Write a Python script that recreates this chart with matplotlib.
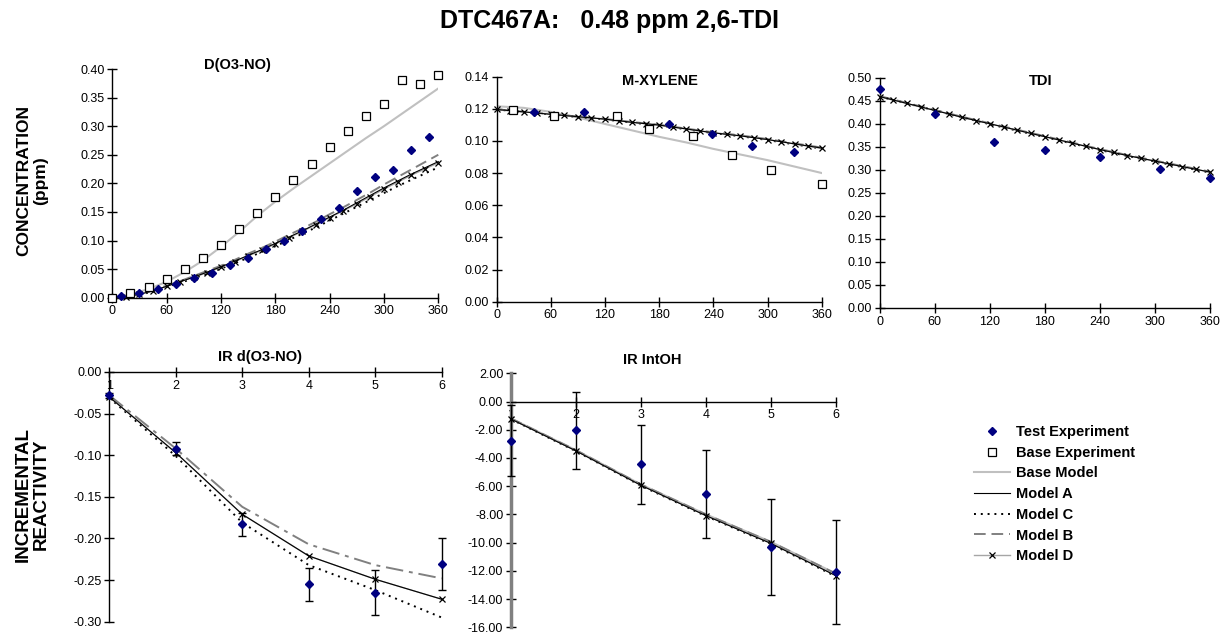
import matplotlib
matplotlib.use('Agg')
import matplotlib.pyplot as plt
from matplotlib.lines import Line2D
from matplotlib.ticker import FormatStrFormatter

plt.rcParams['font.family'] = ['Liberation Sans', 'DejaVu Sans']
plt.rcParams['axes.unicode_minus'] = False

# ---- D(O3-NO) ----
d_base_t = [0, 20, 40, 60, 80, 100, 120, 140, 160, 180, 200, 220, 240, 260, 280, 300, 320, 340, 360]
d_base_exp = [0.000, 0.008, 0.018, 0.033, 0.050, 0.069, 0.093, 0.120, 0.148, 0.177, 0.205,
              0.234, 0.264, 0.292, 0.318, 0.338, 0.380, 0.374, 0.389]
d_base_model = [0.000, 0.006, 0.015, 0.028, 0.045, 0.065, 0.089, 0.115, 0.143, 0.168, 0.191,
                0.213, 0.235, 0.257, 0.279, 0.300, 0.322, 0.344, 0.366]
d_test_t = [10, 30, 50, 70, 90, 110, 130, 150, 170, 190, 210, 230, 250, 270, 290, 310, 330, 350]
d_test_exp = [0.0035, 0.009, 0.015, 0.024, 0.035, 0.044, 0.057, 0.069, 0.085, 0.100, 0.117,
              0.137, 0.157, 0.187, 0.211, 0.224, 0.258, 0.281]

model_t = [0, 15, 30, 45, 60, 75, 90, 105, 120, 135, 150, 165, 180, 195, 210, 225, 240,
           255, 270, 285, 300, 315, 330, 345, 360]
d_model_a = [0.000, 0.002, 0.006, 0.012, 0.020, 0.028, 0.036, 0.045, 0.054, 0.064, 0.074, 0.084, 0.095,
             0.106, 0.117, 0.129, 0.141, 0.153, 0.166, 0.179, 0.192, 0.204, 0.216, 0.227, 0.238]
d_model_b = [0.000, 0.002, 0.006, 0.013, 0.021, 0.029, 0.038, 0.047, 0.056, 0.066, 0.077, 0.087, 0.098,
             0.110, 0.121, 0.133, 0.146, 0.158, 0.171, 0.184, 0.198, 0.211, 0.224, 0.237, 0.250]
d_model_c = [0.000, 0.002, 0.005, 0.011, 0.019, 0.026, 0.034, 0.042, 0.051, 0.060, 0.070, 0.080, 0.090,
             0.101, 0.112, 0.123, 0.135, 0.147, 0.159, 0.171, 0.183, 0.195, 0.206, 0.217, 0.228]
d_model_d = [0.000, 0.002, 0.006, 0.012, 0.020, 0.028, 0.036, 0.044, 0.053, 0.063, 0.073, 0.083, 0.094,
             0.105, 0.116, 0.128, 0.140, 0.152, 0.164, 0.177, 0.190, 0.202, 0.214, 0.225, 0.236]

# ---- M-XYLENE ----
x_base_t = [18, 64, 133, 169, 217, 261, 304, 360]
x_base_exp = [0.119, 0.1155, 0.1152, 0.1076, 0.103, 0.091, 0.082, 0.073]
x_test_t = [41, 97, 191, 239, 283, 329]
x_test_exp = [0.1177, 0.1177, 0.1105, 0.1045, 0.097, 0.0928]
x_model_t30 = [0, 30, 60, 90, 120, 150, 180, 210, 240, 270, 300, 330, 360]
x_base_model = [0.1215, 0.1205, 0.118, 0.1145, 0.1105, 0.1065, 0.1025, 0.099, 0.095, 0.0915,
                0.088, 0.084, 0.080]
x_model_a = [0.1195, 0.1180, 0.1165, 0.1150, 0.1135, 0.1115, 0.1098, 0.1074, 0.1050, 0.1031,
             0.1008, 0.0981, 0.0955]
x_model_b = [0.1196, 0.1181, 0.1166, 0.1151, 0.1136, 0.1117, 0.1100, 0.1076, 0.1053, 0.1034,
             0.1011, 0.0984, 0.0958]
x_model_c = [0.1195, 0.1179, 0.1164, 0.1149, 0.1133, 0.1113, 0.1096, 0.1072, 0.1048, 0.1029,
             0.1005, 0.0978, 0.0952]
x_model_d = [0.1195, 0.1188, 0.1180, 0.1173, 0.1165, 0.1158, 0.1150, 0.1143, 0.1135, 0.1125,
             0.1115, 0.1107, 0.1098, 0.1086, 0.1074, 0.1062, 0.1050, 0.1042, 0.1031, 0.1020,
             0.1008, 0.0995, 0.0981, 0.0967, 0.0953]

# ---- TDI ----
t_test_t = [0, 60, 125, 180, 240, 305, 360]
t_test_exp = [0.475, 0.421, 0.360, 0.344, 0.328, 0.301, 0.283]
t_model_d = [0.459, 0.451, 0.444, 0.436, 0.429, 0.422, 0.414, 0.407, 0.400, 0.393, 0.386, 0.379,
             0.372, 0.365, 0.358, 0.351, 0.344, 0.338, 0.331, 0.325, 0.319, 0.313, 0.307, 0.301, 0.295]
t_model_a = [0.459, 0.444, 0.429, 0.414, 0.400, 0.386, 0.372, 0.358, 0.344, 0.331, 0.319, 0.307, 0.295]
t_model_b = [0.460, 0.445, 0.430, 0.415, 0.401, 0.387, 0.373, 0.359, 0.345, 0.332, 0.320, 0.308, 0.296]
t_model_c = [0.459, 0.444, 0.429, 0.414, 0.399, 0.385, 0.371, 0.357, 0.343, 0.330, 0.318, 0.306, 0.294]

# ---- incremental reactivity ----
ir_hour = [1, 2, 3, 4, 5, 6]
ir_test = [-0.028, -0.092, -0.183, -0.255, -0.265, -0.231]
ir_err = [0.003, 0.0076, 0.0136, 0.020, 0.027, 0.0315]
ir_model_a = [-0.030, -0.097, -0.171, -0.221, -0.249, -0.273]
ir_model_b = [-0.028, -0.092, -0.162, -0.207, -0.232, -0.248]
ir_model_c = [-0.031, -0.101, -0.181, -0.232, -0.262, -0.295]
ir_model_d = [-0.030, -0.097, -0.171, -0.221, -0.249, -0.273]

oh_test = [-2.79, -2.05, -4.46, -6.54, -10.32, -12.09]
oh_err = [2.52, 2.70, 2.83, 3.13, 3.40, 3.68]
oh_model_a = [-1.24, -3.50, -5.94, -8.09, -10.06, -12.35]
oh_model_b = [-1.20, -3.45, -5.88, -8.00, -9.95, -12.20]
oh_model_c = [-1.25, -3.52, -5.97, -8.12, -10.10, -12.40]
oh_model_d = [-1.23, -3.49, -5.93, -8.08, -10.04, -12.33]

NAVY = '#000080'
BASE_GRAY = '#c0c0c0'
B_GRAY = '#808080'
D_GRAY = '#a6a6a6'
TICK_FS = 9

fig = plt.figure(figsize=(12.21, 6.34), dpi=100)
W, H = 1221, 634


def axes_px(left, right, top, bottom):
    return fig.add_axes([left / W, 1 - bottom / H, (right - left) / W, (bottom - top) / H])


def style(ax):
    for s in ['top', 'right']:
        ax.spines[s].set_visible(False)
    for s in ['left', 'bottom']:
        ax.spines[s].set_linewidth(1.0)
    ax.tick_params(direction='inout', length=7, width=1.0, labelsize=TICK_FS, pad=2)
    ax.patch.set_alpha(0)


def conc_panel(ax):
    ax.set_xlim(0, 360)
    ax.set_xticks(range(0, 361, 60))
    ax.yaxis.set_major_formatter(FormatStrFormatter('%.2f'))
    style(ax)


def test_pts(ax, t, v):
    ax.plot(t, v, ls='none', marker='D', ms=4.5, color=NAVY, clip_on=False, zorder=6)


def base_pts(ax, t, v):
    ax.plot(t, v, ls='none', marker='s', ms=6, mfc='white', mec='black', mew=0.9,
            clip_on=False, zorder=5)


def models(ax, ta, a, b, c, td, d, b_ls=(0, (6, 3))):
    ax.plot(ta, b, color=B_GRAY, lw=1.4, ls=b_ls, zorder=3, clip_on=False)
    ax.plot(ta, c, color='black', lw=1.4, ls=(0, (1, 2.5)), zorder=3, clip_on=False)
    ax.plot(td, d, color=D_GRAY, lw=1.0, marker='x', ms=5, mec='black', mew=0.9, zorder=4,
            clip_on=False)
    ax.plot(ta, a, color='black', lw=0.8, zorder=4, clip_on=False)


# D(O3-NO)
ax1 = axes_px(112.3, 438.3, 69, 297.7)
conc_panel(ax1)
ax1.set_ylim(0, 0.40)
ax1.set_yticks([round(i * 0.05, 2) for i in range(9)])
ax1.plot(d_base_t, d_base_model, color=BASE_GRAY, lw=1.5, zorder=2)
models(ax1, model_t, d_model_a, d_model_b, d_model_c, model_t, d_model_d)
base_pts(ax1, d_base_t, d_base_exp)
test_pts(ax1, d_test_t, d_test_exp)

# M-XYLENE
ax2 = axes_px(496.7, 821.7, 76.5, 301.7)
conc_panel(ax2)
ax2.set_ylim(0, 0.14)
ax2.set_yticks([round(i * 0.02, 2) for i in range(8)])
ax2.plot(x_model_t30, x_base_model, color=BASE_GRAY, lw=1.5, zorder=2)
models(ax2, x_model_t30, x_model_a, x_model_b, x_model_c, model_t, x_model_d)
base_pts(ax2, x_base_t, x_base_exp)
test_pts(ax2, x_test_t, x_test_exp)

# TDI
ax3 = axes_px(879.7, 1210, 77.7, 308)
conc_panel(ax3)
ax3.set_ylim(0, 0.50)
ax3.set_yticks([round(i * 0.05, 2) for i in range(11)])
models(ax3, x_model_t30, t_model_a, t_model_b, t_model_c, model_t, t_model_d)
test_pts(ax3, t_test_t, t_test_exp)

# IR d(O3-NO)
ax4 = axes_px(109.3, 441.7, 372, 621.7)
style(ax4)
ax4.set_xlim(1, 6)
ax4.set_ylim(-0.30, 0.0)
ax4.set_yticks([round(-0.05 * i, 2) + 0.0 for i in range(7)])
ax4.set_xticks(ir_hour)
ax4.spines['bottom'].set_position(('data', 0))
ax4.set_yticklabels(['0.00'] + ['-%.2f' % (0.05 * i) for i in range(1, 7)])
models(ax4, ir_hour, ir_model_a, ir_model_b, ir_model_c, ir_hour, ir_model_d, b_ls=(0, (9, 3, 2, 3)))
ax4.errorbar(ir_hour, ir_test, yerr=ir_err, fmt='D', ms=4.5, color=NAVY, ecolor='black',
             elinewidth=1.0, capsize=3, capthick=1.0, clip_on=False, zorder=6)

# IR IntOH
ax5 = axes_px(511, 836, 373.3, 627.3)
style(ax5)
ax5.set_xlim(1, 6)
ax5.set_ylim(-16, 2)
ax5.set_yticks(range(-16, 3, 2))
ax5.set_xticks(ir_hour)
ax5.spines['bottom'].set_position(('data', 0))
ax5.spines['left'].set_color('#808080')
ax5.spines['left'].set_linewidth(2.5)
ax5.yaxis.set_major_formatter(FormatStrFormatter('%.2f'))
ax5.plot(ir_hour, oh_model_b, color=BASE_GRAY, lw=1.5, zorder=2)
models(ax5, ir_hour, oh_model_a, oh_model_b, oh_model_c, ir_hour, oh_model_d)
ax5.errorbar(ir_hour, oh_test, yerr=oh_err, fmt='D', ms=4.5, color=NAVY, ecolor='black',
             elinewidth=1.0, capsize=3, capthick=1.0, clip_on=False, zorder=6)

# titles
fig.text(609 / W, 1 - 21 / H, 'DTC467A:   0.48 ppm 2,6-TDI', ha='center', va='center',
         fontsize=18, fontweight='bold')
for x, y, s in [(237, 65, 'D(O3-NO)'), (660, 81, 'M-XYLENE'), (1041, 81, 'TDI'),
                (260, 357, 'IR d(O3-NO)'), (652, 360, 'IR IntOH')]:
    fig.text(x / W, 1 - y / H, s, ha='center', va='center', fontsize=10.5, fontweight='bold')
fig.text(32 / W, 1 - 181 / H, 'CONCENTRATION\n(ppm)', ha='center', va='center', rotation=90,
         fontsize=12.5, fontweight='bold', linespacing=1.15)
fig.text(32 / W, 1 - 494 / H, 'INCREMENTAL\nREACTIVITY', ha='center', va='center', rotation=90,
         fontsize=13.5, fontweight='bold', linespacing=1.1)

handles = [
    Line2D([], [], ls='none', marker='D', ms=4.5, color=NAVY),
    Line2D([], [], ls='none', marker='s', ms=6, mfc='white', mec='black', mew=0.9),
    Line2D([], [], color=BASE_GRAY, lw=1.5),
    Line2D([], [], color='black', lw=0.8),
    Line2D([], [], color='black', lw=1.4, ls=(0, (1, 2.5))),
    Line2D([], [], color=B_GRAY, lw=1.4, ls=(0, (6, 3))),
    Line2D([], [], color=D_GRAY, lw=1.0, marker='x', ms=5, mec='black', mew=0.9),
]
labels = ['Test Experiment', 'Base Experiment', 'Base Model', 'Model A', 'Model C',
          'Model B', 'Model D']
leg = fig.legend(handles, labels, loc='upper left', bbox_to_anchor=(974 / W, 1 - 425 / H),
                 frameon=False, handlelength=2.47, handletextpad=0.4, labelspacing=0.46,
                 prop={'weight': 'bold', 'size': 10.5}, borderaxespad=0, borderpad=0)

fig.savefig('out.png', dpi=100)
